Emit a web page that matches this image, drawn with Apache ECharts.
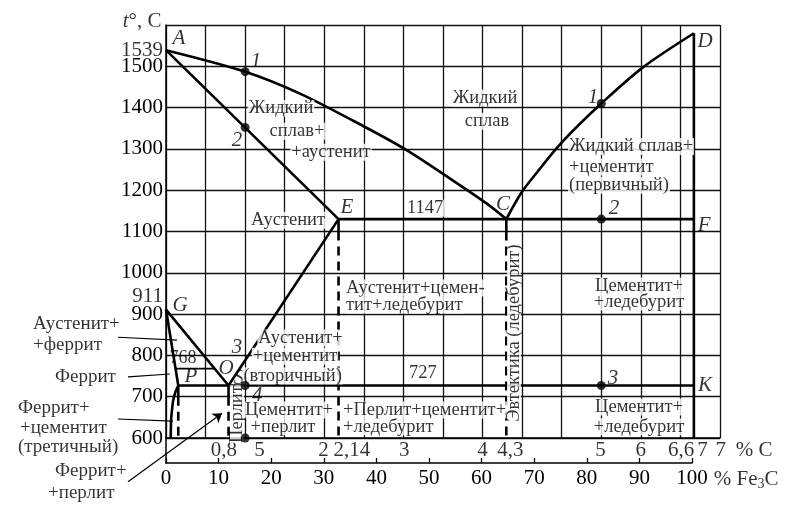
<!DOCTYPE html>
<html><head><meta charset="utf-8">
<script src="https://cdn.jsdelivr.net/npm/echarts@6/dist/echarts.min.js"></script>
<style>html,body{margin:0;padding:0;background:#fff}#c{width:800px;height:510px}</style>
</head><body><div id="c"></div>
<script>
// ---------------- data (x = % C, y = t, °C) ----------------
const liquidusAC = [[0,1539],[1.0,1487],[1.693,1434],[2.515,1353],[3.04,1297],[3.59,1228],[4.05,1168],[4.3,1130]];
const solidusAE  = [[0,1539],[2.18,1130]];
const liquidusCD = [[4.3,1130],[4.49,1194],[4.70,1246],[4.915,1297],[5.126,1341],[5.5,1410],[6.03,1498],[6.67,1580]];
const lineECF    = [[2.18,1130],[6.67,1130]];
const lineES     = [[2.18,1130],[0.79,727]];
const lineGS     = [[0,911],[0.79,727]];
const lineGP     = [[0,911],[0.155,727]];
const curvePQ    = [[0.155,727],[0.101,700],[0.076,668],[0.063,636],[0.06,600]];
const linePSK    = [[0.155,727],[6.67,727]];
const line768    = [[0.12,768],[0.614,768]];
const lineDK     = [[6.67,1580],[6.67,600]];
const solidDrops = [[[2.18,1130],[2.18,1100]],[[4.3,1130],[4.3,1100]],[[0.155,727],[0.155,700]],[[0.79,727],[0.79,700]]];
const dashedDrops= [[[2.18,1100],[2.18,600]],[[4.3,1100],[4.3,600]],[[0.155,700],[0.155,600]],[[0.79,700],[0.79,600]]];
const alloyPoints = [[1.0,1487],[1.0,1352],[1.0,727],[1.0,600],[5.5,1410],[5.5,1130],[5.5,727]];

const yExtraTicks = [1539, 911];
const cTickPos  = [0.73,1.18,1.99,2.35,3.01,4.0,4.35,5.49,6.0,6.51,6.78,7.01,7.43];
const cTickText = ['0,8','5','2','2,14','3','4','4,3','5','6','6,6','7','7','% C'];

const letterText = ['A','1','2','E','C','D','1','2','F','G','P','O','S','3','4','3','K'];
const letterPos  = [[0.164,1568],[1.137,1512],[0.897,1321],[2.287,1159],[4.258,1166],[6.81,1561],[5.395,1425],[5.66,1156],[6.80,1115],[0.177,922],[0.316,750],[0.758,769],[0.922,745],[0.897,820],[1.15,702],[5.648,745],[6.81,726]];

const regionText = ['Жидкий','сплав+','+аустенит','Аустенит','1147','Жидкий','сплав','Аустенит+','+цементит','(вторичный)','Цементит+','+перлит','727','Цементит+','+ледебурит','Цементит+','+ледебурит'];
const regionPos  = [[1.453,1398],[1.655,1343],[2.085,1292],[1.542,1127],[3.273,1156],[4.031,1423],[4.056,1367],[1.70,842],[1.63,798],[1.60,750],[1.554,668],[1.478,627],[3.247,757],[5.977,968],[5.977,929],[5.977,675],[5.977,627]];

const leftText = ['Жидкий сплав+','+цементит','(первичный)','Аустенит+цемен-','тит+ледебурит','+Перлит+цементит+','+ледебурит'];
const leftPos  = [[5.08,1306],[5.08,1256],[5.08,1212],[2.262,963],[2.262,922],[2.224,668],[2.224,627]];

const outText = ['Аустенит+','+феррит','Феррит','Феррит+','+цементит','(третичный)','Феррит+','+перлит'];
const outPos  = [[-1.68,876],[-1.68,825],[-1.403,748],[-1.87,673],[-1.845,624],[-1.87,578],[-1.403,520],[-1.491,467]];

const rotText = ['Перлит','Эвтектика (ледебурит)'];
const rotPos  = [[0.897,658],[4.397,854]];

const curieText = ['768'];
const curiePos  = [[0.215,794]];

const leaderLines = [[[-0.607,844],[0.139,837]],[[-0.48,748],[0.05,755]],[[-0.607,646],[0.088,641]]];
const arrowLine   = [[-0.48,494],[0.708,660]];

const fe3cMin = 0, fe3cMax = 100, fe3cStep = 10;

// ---------------- chart ----------------
const FONT = 'Liberation Serif';
const BLACK = '#000';

function lineS(data, extra) {
  return Object.assign({
    type:'line', xAxisIndex:0, yAxisIndex:0, data, symbol:'none', showSymbol:false,
    silent:true, clip:false, z:3, animation:false,
    lineStyle:{color:BLACK, width:2.6}
  }, extra || {});
}
function textS(texts, pos, label, z) {
  return {
    type:'scatter', xAxisIndex:0, yAxisIndex:0, symbolSize:0, silent:true, clip:false, z:z||6, animation:false,
    data: texts.map((t,i)=>({value:pos[i], t})),
    label: Object.assign({show:true, position:'inside', color:BLACK, fontFamily:FONT, fontSize:18.5,
      formatter:p=>p.data.t}, label)
  };
}

const series = [];
series.push(lineS(liquidusAC, {smooth:0.3}));
series.push(lineS(solidusAE));
series.push(lineS(liquidusCD, {smooth:0.3}));
series.push(lineS(lineECF));
series.push(lineS(lineES));
series.push(lineS(lineGS));
series.push(lineS(lineGP));
series.push(lineS(curvePQ, {smooth:0.5}));
series.push(lineS(linePSK));
series.push(lineS(line768, {lineStyle:{color:BLACK, width:1.6}}));
series.push(lineS(lineDK));
solidDrops.forEach(d=>series.push(lineS(d)));
dashedDrops.forEach(d=>series.push(lineS(d, {lineStyle:{color:BLACK, width:2.6, type:[9,6]}})));

// leader lines (plain) and arrow
series.push({type:'lines', coordinateSystem:'cartesian2d', xAxisIndex:0, yAxisIndex:0, silent:true, clip:false,
  animation:false, z:5, symbol:['none','none'],
  lineStyle:{color:BLACK, width:1.2, opacity:1},
  data: leaderLines.map(l=>({coords:l}))});
series.push({type:'lines', coordinateSystem:'cartesian2d', xAxisIndex:0, yAxisIndex:0, silent:true, clip:false,
  animation:false, z:5, symbol:['none','arrow'], symbolSize:9,
  lineStyle:{color:BLACK, width:1.2, opacity:1},
  data:[{coords:arrowLine}]});

// texts
series.push(textS(letterText, letterPos, {fontStyle:'italic', fontSize:21}, 6));
series.push(textS(regionText, regionPos, {backgroundColor:'#fff', padding:[0,1], lineHeight:17}, 7));
series.push(textS(leftText, leftPos, {align:'left', backgroundColor:'#fff', padding:[0,1], lineHeight:17}, 7));
series.push(textS(outText, outPos, {align:'left', fontSize:19}, 7));
series.push(textS(rotText, rotPos, {rotate:90, backgroundColor:'#fff', padding:[0,0], lineHeight:14}, 7));
series.push(textS(curieText, curiePos, {fontSize:18}, 7));

// alloy points (above labels)
series.push({type:'scatter', data:alloyPoints, symbol:'circle', symbolSize:9, itemStyle:{color:BLACK},
  silent:true, clip:false, z:9, animation:false});

// extra y ticks (1539, 911)
series.push({type:'scatter', symbolSize:0, silent:true, clip:false, animation:false, z:6,
  data: yExtraTicks.map(v=>({value:[0,v], label: v===911 ? {offset:[0,-13]} : {}})),
  label:{show:true, position:'left', distance:3, color:BLACK, fontFamily:FONT, fontSize:21, formatter:p=>String(p.value[1])}});
// % C tick row
series.push({type:'scatter', symbolSize:0, silent:true, clip:false, animation:false, z:6,
  data: cTickPos.map((v,i)=>({value:[v,600], t:cTickText[i]})),
  label:{show:true, position:'bottom', distance:2, color:BLACK, fontFamily:FONT, fontSize:21, formatter:p=>p.data.t}});
// axis titles
series.push({type:'scatter', symbolSize:0, silent:true, clip:false, animation:false, z:6,
  data:[{value:[-0.303,1609]}],
  label:{show:true, position:'inside', color:BLACK, formatter:'{i|t}{a|°, C}',
    rich:{i:{fontFamily:FONT, fontSize:21, fontStyle:'italic', color:BLACK}, a:{fontFamily:FONT, fontSize:21, color:BLACK}}}});
series.push({type:'scatter', xAxisIndex:1, yAxisIndex:1, symbolSize:0, silent:true, clip:false, animation:false, z:6,
  data:[{value:[110.3,0]}],
  label:{show:true, position:'bottom', distance:5, color:BLACK, formatter:'{a|% Fe}{s|3}{a|C}',
    rich:{a:{fontFamily:FONT, fontSize:21, color:BLACK}, s:{fontFamily:FONT, fontSize:14, color:BLACK, padding:[9,0,0,0]}}}});

const option = {
  animation:false,
  backgroundColor:'#fff',
  grid:[{left:166, top:25, width:554, height:413}, {left:166, top:438, width:526, height:25}],
  xAxis:[
    {gridIndex:0, type:'value', min:0, max:7, interval:0.5,
     axisLine:{show:true, onZero:false, lineStyle:{color:BLACK, width:1.5}},
     axisTick:{show:false}, axisLabel:{show:false},
     splitLine:{show:true, lineStyle:{color:'#111', width:1.3}}},
    {gridIndex:1, type:'value', min:fe3cMin, max:fe3cMax, interval:fe3cStep, position:'bottom',
     axisLine:{show:true, onZero:false, lineStyle:{color:BLACK, width:1.5}},
     axisTick:{show:true, inside:true, length:5, lineStyle:{color:BLACK, width:1.3}},
     axisLabel:{color:BLACK, fontFamily:FONT, fontSize:21, margin:5},
     splitLine:{show:false}}
  ],
  yAxis:[
    {gridIndex:0, type:'value', min:600, max:1600, interval:100,
     axisLine:{show:true, onZero:false, lineStyle:{color:BLACK, width:1.5}},
     axisTick:{show:false},
     axisLabel:{color:BLACK, fontFamily:FONT, fontSize:21, margin:3, formatter:v=>v===1600?'':String(v)},
     splitLine:{show:true, lineStyle:{color:'#111', width:1.3}}},
    {gridIndex:1, type:'value', min:0, max:1,
     axisLine:{show:true, onZero:false, lineStyle:{color:BLACK, width:1.5}},
     axisTick:{show:false}, axisLabel:{show:false}, splitLine:{show:false}}
  ],
  series
};
const chart = echarts.init(document.getElementById('c'), null, {renderer:'canvas'});
chart.setOption(option);
</script></body></html>
